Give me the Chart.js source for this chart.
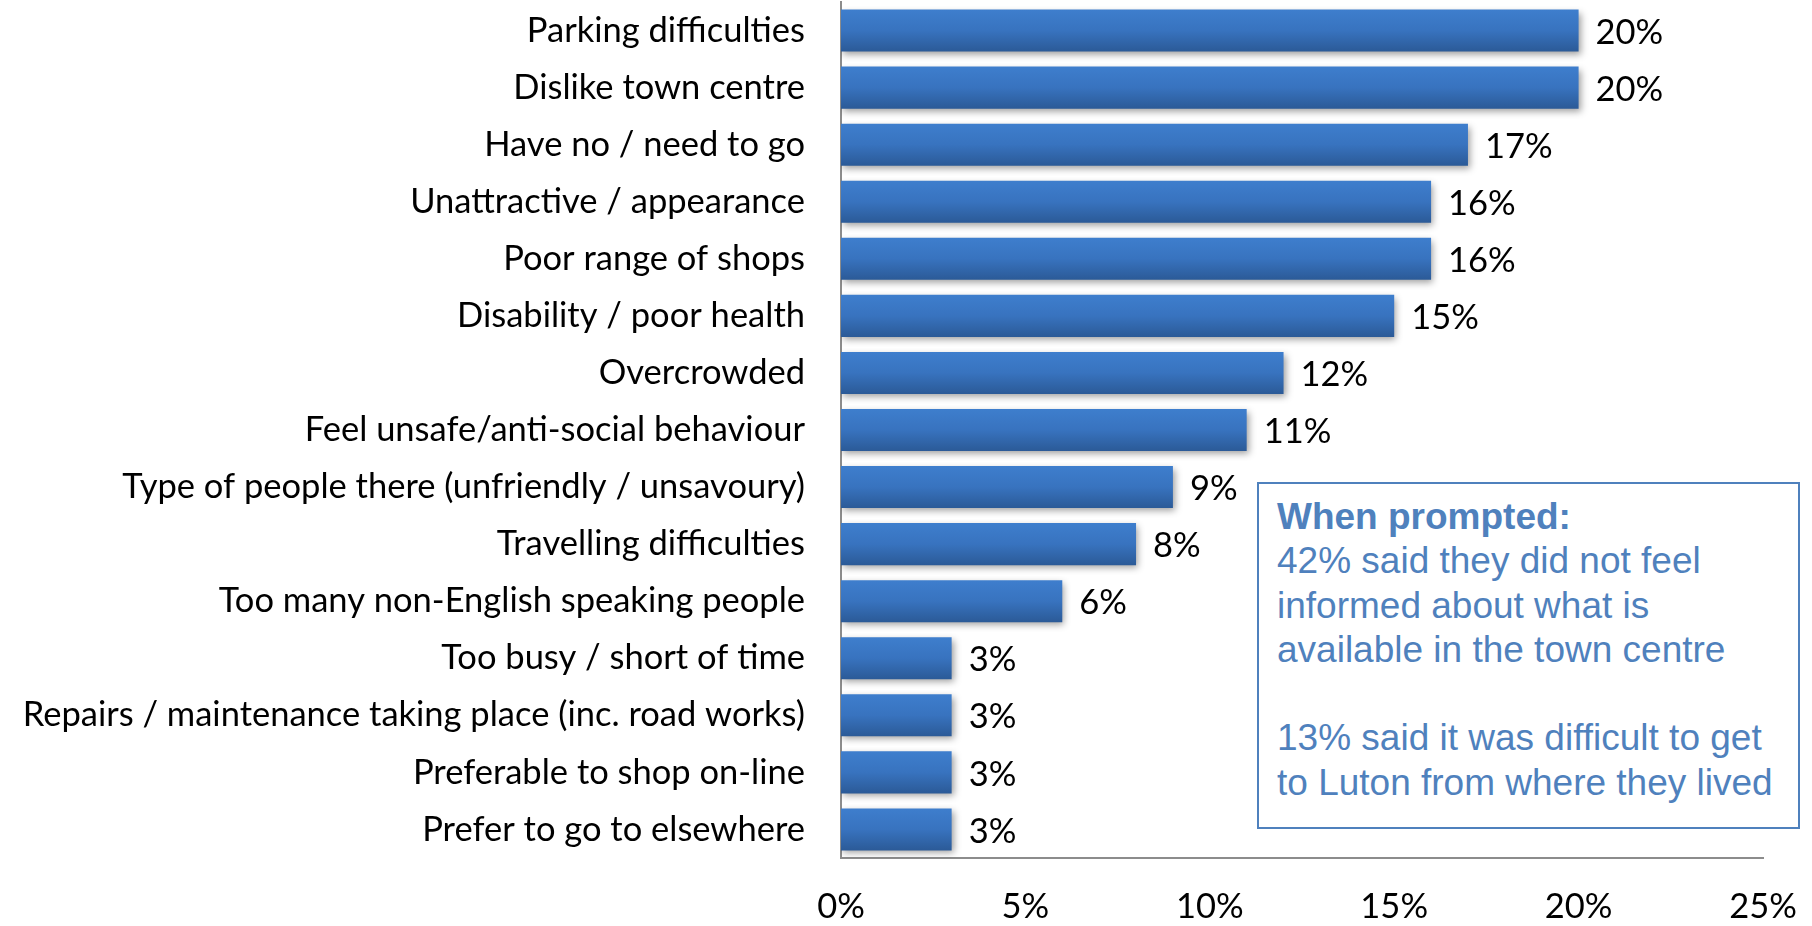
<!DOCTYPE html>
<html>
<head>
<meta charset="utf-8">
<script src="https://cdn.jsdelivr.net/npm/chart.js@4/dist/chart.umd.min.js"></script>
<style>
  html, body { margin: 0; padding: 0; background: #ffffff; }
  #wrap { position: relative; width: 1812px; height: 926px; }
  #note {
    position: absolute; left: 1257px; top: 482px; width: 543px; height: 347px;
    box-sizing: border-box; border: 2px solid #4f81bd; background: #ffffff;
    padding: 11px 0 0 18px;
    font-family: "Liberation Sans", Arial, sans-serif; font-size: 37px; line-height: 44.3px;
    color: #4f81bd; white-space: nowrap;
  }
  #note b { font-weight: bold; }
</style>
</head>
<body>
<div id="wrap">
  <canvas id="c" width="1812" height="926"></canvas>
  <div id="note"><b>When prompted:</b><br>42% said they did not feel<br>informed about what is<br>available in the town centre<br><br>13% said it was difficult to get<br>to Luton from where they lived</div>
</div>
<script>
const categories = [
  "Parking difficulties",
  "Dislike town centre",
  "Have no / need to go",
  "Unattractive / appearance",
  "Poor range of shops",
  "Disability / poor health",
  "Overcrowded",
  "Feel unsafe/anti-social behaviour",
  "Type of people there (unfriendly / unsavoury)",
  "Travelling difficulties",
  "Too many non-English speaking people",
  "Too busy / short of time",
  "Repairs / maintenance taking place (inc. road works)",
  "Preferable to shop on-line",
  "Prefer to go to elsewhere"
];
const values = [20, 20, 17, 16, 16, 15, 12, 11, 9, 8, 6, 3, 3, 3, 3];
const xTickValues = [0, 5, 10, 15, 20, 25];

const LABEL_FONT = { family: "Lato, 'Open Sans', sans-serif", size: 34.5 };
const BAR_PCT = 0.737;

const barStyle = {
  id: 'barStyle',
  beforeDatasetsDraw(chart) {
    const ctx = chart.ctx;
    ctx.save();
    ctx.shadowColor = 'rgba(0,0,0,0.38)';
    ctx.shadowBlur = 7;
    ctx.shadowOffsetX = 2;
    ctx.shadowOffsetY = 3;
  },
  afterDatasetsDraw(chart) {
    const ctx = chart.ctx;
    ctx.restore();
    ctx.save();
    ctx.font = LABEL_FONT.size + 'px ' + LABEL_FONT.family;
    ctx.fillStyle = '#000000';
    ctx.textAlign = 'left';
    ctx.textBaseline = 'middle';
    const meta = chart.getDatasetMeta(0);
    meta.data.forEach((bar, i) => {
      ctx.fillText(values[i] + '%', bar.x + 17, bar.y + 2);
    });
    ctx.restore();
  }
};

new Chart(document.getElementById('c'), {
  type: 'bar',
  data: {
    labels: categories,
    datasets: [{
      data: values,
      borderWidth: 0,
      barPercentage: BAR_PCT,
      categoryPercentage: 1,
      backgroundColor: (c) => {
        const chart = c.chart;
        const ys = chart.scales.y;
        if (!chart.chartArea || c.dataIndex === undefined || !ys) return '#3872bd';
        const center = ys.getPixelForValue(c.dataIndex);
        const pitch = Math.abs(ys.getPixelForValue(1) - ys.getPixelForValue(0));
        const half = pitch * BAR_PCT / 2;
        if (!isFinite(center) || !isFinite(half) || half <= 0) return '#3872bd';
        const g = chart.ctx.createLinearGradient(0, center - half, 0, center + half);
        g.addColorStop(0, '#3e7ecd');
        g.addColorStop(0.5, '#3873bf');
        g.addColorStop(1, '#2b5a97');
        return g;
      }
    }]
  },
  options: {
    indexAxis: 'y',
    responsive: false,
    animation: false,
    devicePixelRatio: 1,
    layout: { padding: { top: 2, right: 49, left: 0, bottom: 0 } },
    plugins: {
      legend: { display: false },
      tooltip: { enabled: false },
      title: { display: false }
    },
    scales: {
      x: {
        min: 0,
        max: 25,
        afterBuildTicks: (scale) => { scale.ticks = xTickValues.map(v => ({ value: v })); },
        ticks: {
          callback: (v) => v + '%',
          font: LABEL_FONT,
          color: '#000000',
          padding: 20,
          maxRotation: 0
        },
        grid: { display: false },
        border: { display: true, color: '#8c8c8c', width: 2 },
        afterFit: (scale) => { scale.height = 68; scale.paddingLeft = 0; scale.paddingRight = 0; }
      },
      y: {
        ticks: {
          font: LABEL_FONT,
          color: '#000000',
          padding: 28,
          autoSkip: false
        },
        grid: { display: false },
        border: { display: true, color: '#8c8c8c', width: 2 },
        afterFit: (scale) => { scale.width = 841; scale.paddingTop = 0; scale.paddingBottom = 0; }
      }
    }
  },
  plugins: [barStyle]
});
</script>
</body>
</html>
